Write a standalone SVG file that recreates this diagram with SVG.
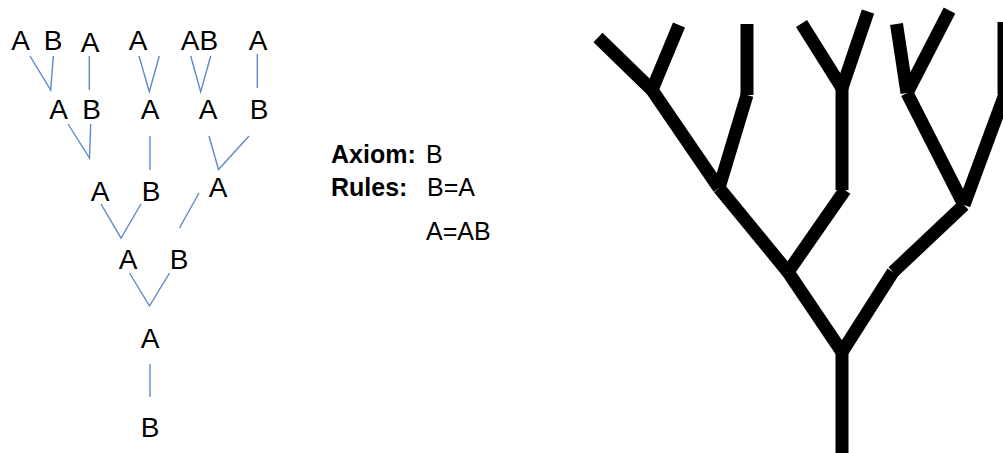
<svg xmlns="http://www.w3.org/2000/svg" width="1003" height="453" viewBox="0 0 1003 453">
  <style>
    .sym { font-family: "Liberation Sans", Arial, sans-serif; font-size: 28px; fill: #000; text-anchor: middle; }
    .txt { font-family: "Liberation Sans", Arial, sans-serif; font-size: 25px; fill: #000; }
    .bold { font-weight: bold; }
    .link { stroke: #5b8ac8; stroke-width: 1.4; fill: none; stroke-linejoin: miter; }
    .branch { stroke: #000; stroke-width: 13; fill: none; stroke-linecap: butt; }
  </style>
  <rect width="1003" height="453" fill="#fff"/>

  <!-- Derivation tree: symbols by generation -->
  <g id="gen0">
    <text class="sym" x="150" y="437">B</text>
  </g>
  <g id="gen1">
    <text class="sym" x="150" y="348">A</text>
  </g>
  <g id="gen2">
    <text class="sym" x="128" y="269">A</text>
    <text class="sym" x="179" y="269">B</text>
  </g>
  <g id="gen3">
    <text class="sym" x="100" y="201">A</text>
    <text class="sym" x="151" y="201">B</text>
    <text class="sym" x="218" y="197">A</text>
  </g>
  <g id="gen4">
    <text class="sym" x="58.5" y="119">A</text>
    <text class="sym" x="91.5" y="119">B</text>
    <text class="sym" x="150" y="119">A</text>
    <text class="sym" x="208" y="119">A</text>
    <text class="sym" x="259" y="119">B</text>
  </g>
  <g id="gen5">
    <text class="sym" x="20.5" y="50">A</text>
    <text class="sym" x="53" y="50">B</text>
    <text class="sym" x="90" y="52">A</text>
    <text class="sym" x="138" y="50">A</text>
    <text class="sym" x="199.5" y="50">AB</text>
    <text class="sym" x="258" y="50">A</text>
  </g>

  <!-- Rewrite links between generations -->
  <g id="links">
    <polyline class="link" points="150,364 150,397"/>
    <polyline class="link" points="129.5,273 149.5,306 169.5,273"/>
    <polyline class="link" points="101,204 121,238 141,204"/>
    <polyline class="link" points="199,193 179.5,228"/>
    <polyline class="link" points="68,124 89.5,158 90.7,124"/>
    <polyline class="link" points="150,136 150,170"/>
    <polyline class="link" points="209,136 218.5,169.5 249,136"/>
    <polyline class="link" points="30,56 50.7,90 53.3,56"/>
    <polyline class="link" points="89.3,56 89.3,90"/>
    <polyline class="link" points="139,56 149.3,91.7 159.3,56"/>
    <polyline class="link" points="190.7,56 200.7,91.7 210.7,56"/>
    <polyline class="link" points="257.3,54 257.3,88"/>
  </g>

  <!-- Axiom and production rules -->
  <g id="rules">
    <text class="txt bold" x="331" y="163">Axiom:</text>
    <text class="txt" x="426" y="163">B</text>
    <text class="txt bold" x="331" y="196">Rules:</text>
    <text class="txt" x="427" y="196">B=A</text>
    <text class="txt" x="426" y="240">A=AB</text>
  </g>

  <!-- Turtle-drawn tree -->
  <g id="tree">
    <line class="branch" x1="842" y1="453" x2="842" y2="352"/>
    <line class="branch" x1="842" y1="352" x2="788" y2="272"/>
    <line class="branch" x1="842" y1="352" x2="893" y2="272"/>
    <line class="branch" x1="788" y1="272" x2="719" y2="188"/>
    <line class="branch" x1="788" y1="272" x2="845" y2="190"/>
    <line class="branch" x1="842" y1="190" x2="842" y2="87"/>
    <line class="branch" x1="842" y1="88" x2="801.5" y2="23.5"/>
    <line class="branch" x1="842" y1="88" x2="868" y2="11.5"/>
    <line class="branch" x1="893" y1="272" x2="964" y2="205"/>
    <line class="branch" x1="964" y1="205" x2="907" y2="93"/>
    <line class="branch" x1="964" y1="205" x2="1005" y2="94"/>
    <line class="branch" x1="1004" y1="94" x2="1004" y2="22"/>
    <line class="branch" x1="907" y1="93" x2="896.5" y2="24"/>
    <line class="branch" x1="907" y1="93" x2="949.5" y2="10.5"/>
    <line class="branch" x1="719" y1="188" x2="652" y2="90"/>
    <line class="branch" x1="652" y1="90" x2="598" y2="37.5"/>
    <line class="branch" x1="652" y1="90" x2="679" y2="25"/>
    <line class="branch" x1="719" y1="188" x2="747" y2="95"/>
    <line class="branch" x1="747" y1="95" x2="747" y2="24"/>
  </g>
</svg>
